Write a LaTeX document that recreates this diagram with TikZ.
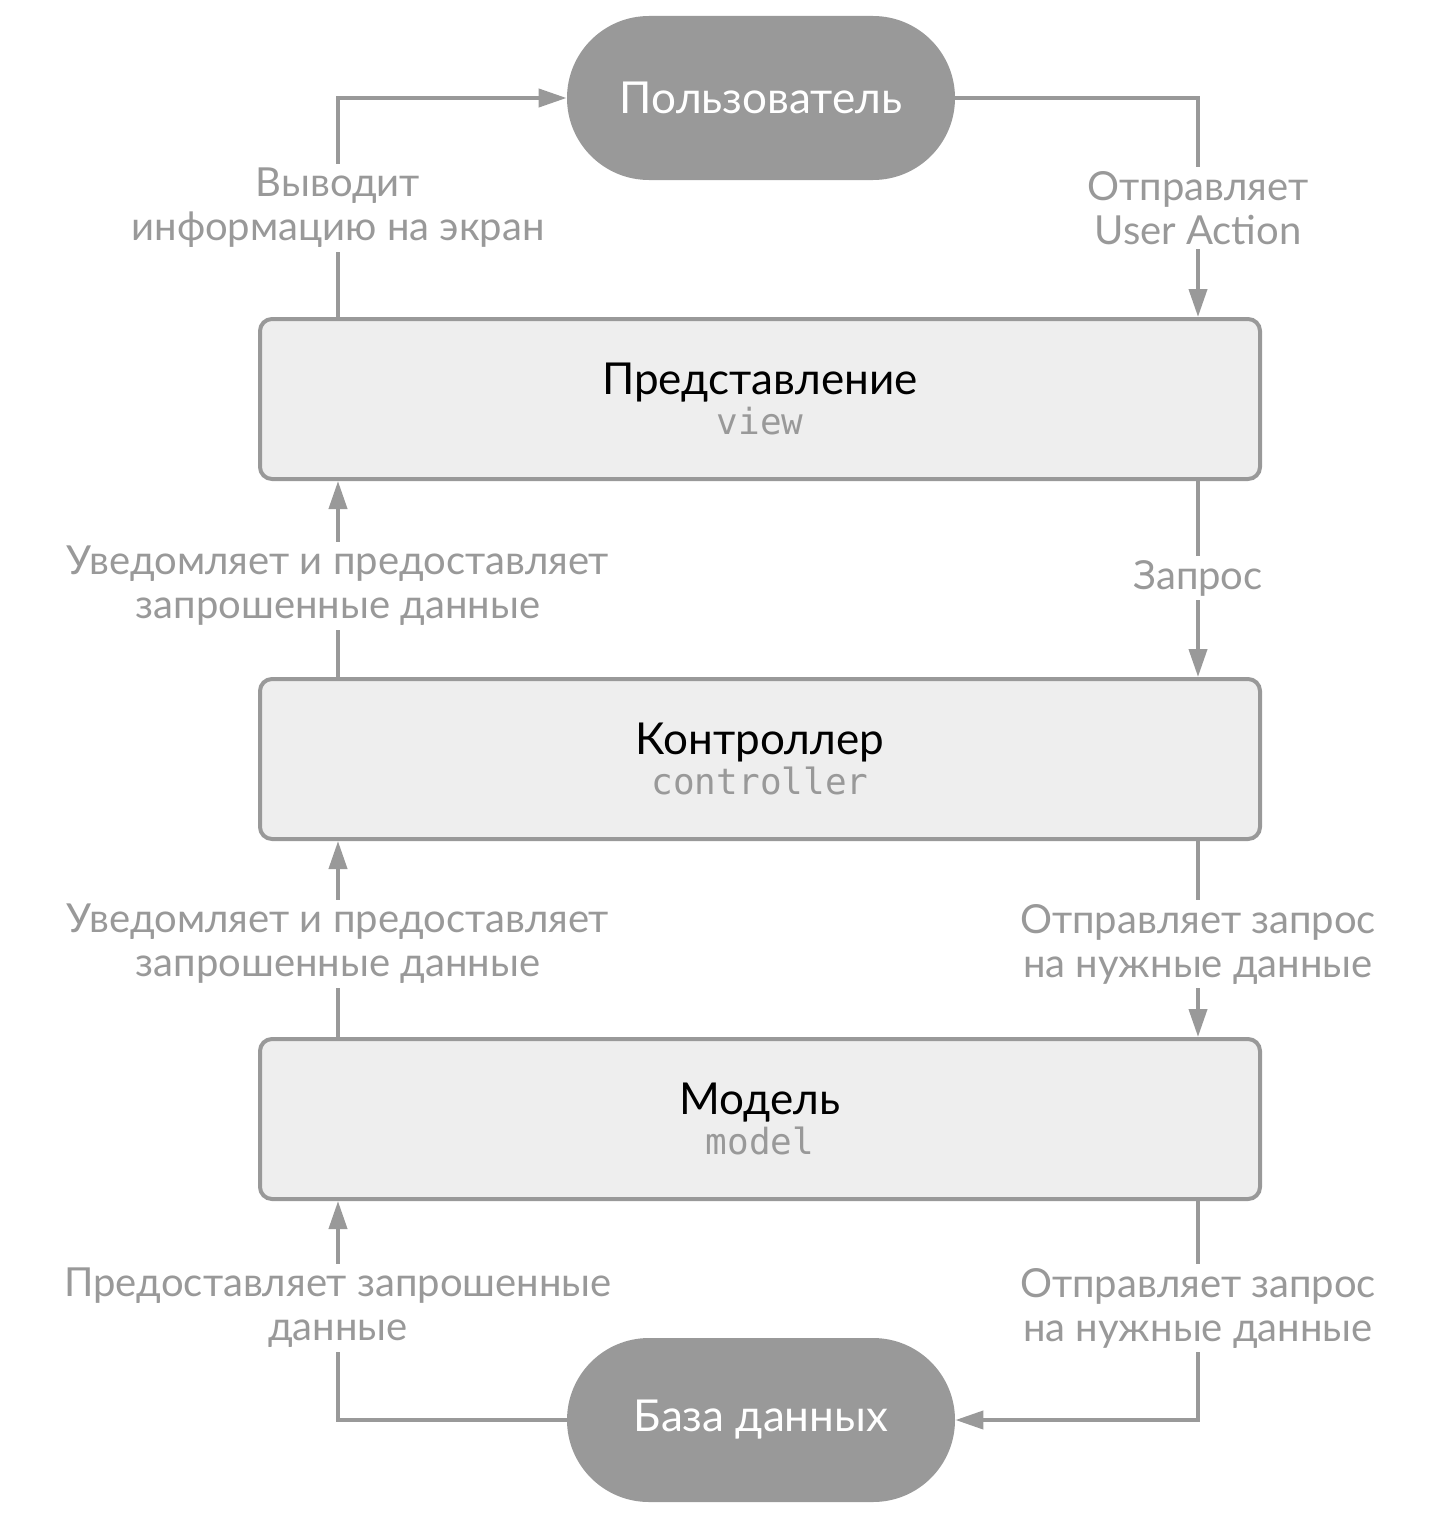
\documentclass[tikz,border=0pt]{standalone}
\usepackage{fontspec}
\setmainfont{Lato}
\setmonofont{DejaVu Sans Mono}
\usepackage{xcolor}
\usetikzlibrary{arrows.meta}
\definecolor{linegray}{HTML}{999999}
\definecolor{boxfill}{HTML}{EEEEEE}
\pgfdeclarelayer{background}
\pgfsetlayers{background,main}
\tikzset{
  pill/.style={rectangle, rounded corners=41pt, fill=linegray, text=white,
    minimum width=194pt, minimum height=82pt, font=\fontsize{22}{26}\selectfont},
  layer/.style={rectangle, rounded corners=6pt, draw=linegray, line width=2pt,
    fill=boxfill, minimum width=500pt, minimum height=80pt, align=center,
    font=\fontsize{22}{20}\selectfont},
  flow/.style={draw=linegray, line width=2pt, -{Triangle[length=14pt,width=9pt]}},
  note/.style={fill=white, text=linegray, align=center, inner sep=2pt,
    font=\fontsize{20}{22}\selectfont}
}
\newcommand{\code}[1]{{\ttfamily\fontsize{18}{20}\selectfont\color{linegray}#1}}

\begin{document}
\begin{tikzpicture}[x=0.5pt,y=-0.5pt]
\useasboundingbox (0,0) rectangle (1440,1520);
% actors
\node [pill] (user) at (761,98) {Пользователь};
\node [pill] (db) at (761,1420) {База данных};
% layers
\node [layer] (view) at (760,399) {Представление\\\code{view}};
\node [layer] (ctrl) at (760,759) {Контроллер\\\code{controller}};
\node [layer] (model) at (760,1119) {Модель\\\code{model}};
\coordinate (L) at (338,0);
\coordinate (R) at (1198,0);
\begin{pgfonlayer}{background}
% connectors
\draw [flow] (L |- view.north) |- (user.west);
\draw [flow] (user.east) -| (R |- view.north);
\draw [flow] (L |- ctrl.north) -- (L |- view.south);
\draw [flow] (R |- view.south) -- (R |- ctrl.north);
\draw [flow] (L |- model.north) -- (L |- ctrl.south);
\draw [flow] (R |- ctrl.south) -- (R |- model.north);
\draw [flow] (db.west) -| (L |- model.south);
\draw [flow] (R |- model.south) |- (db.east);
% labels
\node [note] (show) at (338,208) {Выводит\\информацию на экран};
\node [note] (act) at (1198,208) {Отправляет\\User Action};
\node [note] (notify1) at (338,586) {Уведомляет и предоставляет\\запрошенные данные};
\node [note] (req) at (1198,578) {Запрос};
\node [note] (notify2) at (338,944) {Уведомляет и предоставляет\\запрошенные данные};
\node [note] (ask1) at (1198,944) {Отправляет запрос\\на нужные данные};
\node [note] (give) at (338,1308) {Предоставляет запрошенные\\данные};
\node [note] (ask2) at (1198,1308) {Отправляет запрос\\на нужные данные};
\end{pgfonlayer}
\end{tikzpicture}
\end{document}
